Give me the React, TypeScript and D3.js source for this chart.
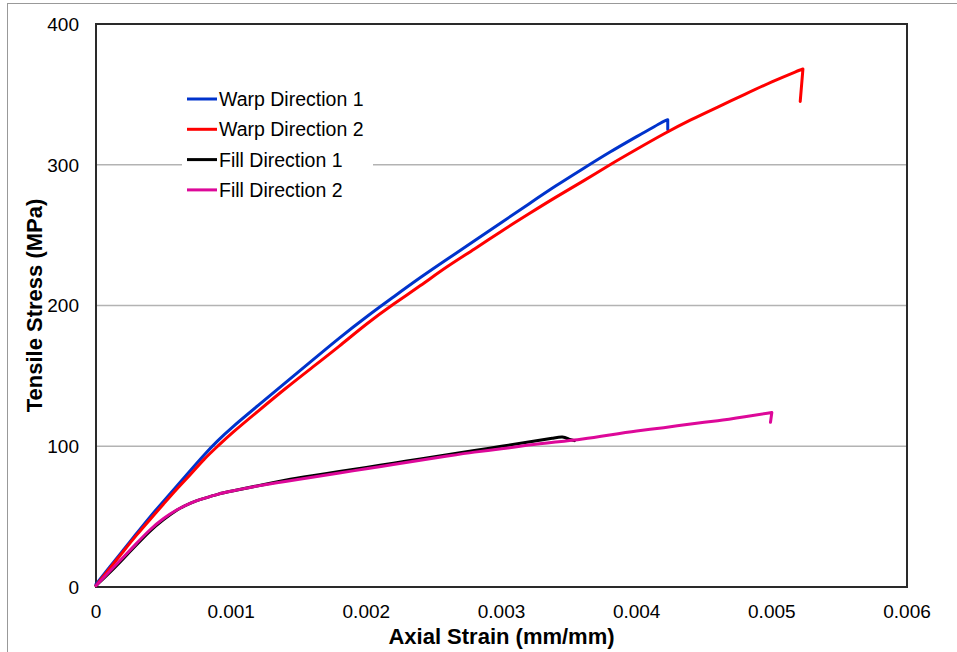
import React from "react";
import * as d3 from "d3";

const xTicks = [0, 0.001, 0.002, 0.003, 0.004, 0.005, 0.006];
const xTickLabels = ["0", "0.001", "0.002", "0.003", "0.004", "0.005", "0.006"];
const yTicks = [0, 100, 200, 300, 400];
const yTickLabels = ["0", "100", "200", "300", "400"];

const seriesNames = ["Warp Direction 1", "Warp Direction 2", "Fill Direction 1", "Fill Direction 2"];
const seriesColors = ["#0033cc", "#ff0000", "#000000", "#dd0899"];

const warp1: [number, number][] = [
  [0, 2], [0.0001, 14], [0.0002, 26], [0.0003, 38], [0.0004, 50], [0.0005, 61], [0.0006, 72],
  [0.0007, 83], [0.0008, 94], [0.0009, 104], [0.001, 113], [0.0012, 129], [0.0014, 145],
  [0.0016, 161], [0.0018, 177], [0.002, 192], [0.0022, 206], [0.0024, 220], [0.0026, 233],
  [0.0028, 246], [0.003, 259], [0.0032, 272], [0.0034, 285], [0.0036, 297], [0.0038, 309],
  [0.004, 320], [0.0042, 331], [0.00423, 332], [0.00423, 325],
];
const warp2: [number, number][] = [
  [0, 1], [0.0001, 13], [0.0002, 25], [0.0003, 37], [0.0004, 48], [0.0005, 59], [0.0006, 70],
  [0.0007, 80], [0.0008, 91], [0.0009, 100], [0.001, 109], [0.0012, 125], [0.0014, 141],
  [0.0016, 156], [0.0018, 171], [0.002, 187], [0.0022, 201], [0.0024, 214], [0.0026, 228],
  [0.0028, 240], [0.003, 253], [0.0032, 265], [0.0034, 277], [0.0036, 288], [0.0038, 300],
  [0.004, 311], [0.0042, 322], [0.0044, 332], [0.0046, 341], [0.0048, 350], [0.005, 359],
  [0.0052, 367], [0.00523, 368], [0.00521, 345],
];
const fill1: [number, number][] = [
  [0, 1], [0.0001, 10], [0.0002, 20], [0.0003, 30], [0.0004, 40], [0.0005, 48], [0.0006, 55],
  [0.0007, 60], [0.0008, 63], [0.0009, 66], [0.001, 68], [0.0012, 72], [0.0014, 76],
  [0.0016, 79], [0.0018, 82], [0.002, 85], [0.0022, 88], [0.0024, 91], [0.0026, 94],
  [0.0028, 97], [0.003, 100], [0.0032, 103], [0.0034, 106], [0.00345, 107], [0.0035, 105],
  [0.00354, 104],
];
const fill2: [number, number][] = [
  [0, 1], [0.0001, 11], [0.0002, 21], [0.0003, 31], [0.0004, 41], [0.0005, 49], [0.0006, 55],
  [0.0007, 60], [0.0008, 63], [0.0009, 66], [0.001, 68], [0.0012, 72], [0.0014, 75],
  [0.0016, 78], [0.0018, 81], [0.002, 84], [0.0022, 87], [0.0024, 90], [0.0026, 93],
  [0.0028, 96], [0.003, 98], [0.0032, 101], [0.0034, 103], [0.0036, 105], [0.0038, 108],
  [0.004, 111], [0.0042, 113], [0.0044, 116], [0.0046, 118], [0.0048, 121], [0.005, 124],
  [0.00499, 117],
];
const seriesData = [warp1, warp2, fill1, fill2];

const W = 957;
const H = 652;
const M = { left: 96, right: 907, top: 24, bottom: 587 };
const FONT = "'Liberation Sans', Arial, sans-serif";

export default function App() {
  const x = d3.scaleLinear().domain([0, 0.006]).range([M.left, M.right]);
  const y = d3.scaleLinear().domain([0, 400]).range([M.bottom, M.top]);
  const smooth = d3
    .line<[number, number]>()
    .x((d) => x(d[0]))
    .y((d) => y(d[1]))
    .curve(d3.curveBasis);

  const pathFor = (d: [number, number][]) => {
    // smooth body up to the failure peak, then the straight drop after failure
    const last = d[d.length - 1];
    const body = smooth(d.slice(0, -1)) || "";
    return `${body}L${x(last[0])},${y(last[1])}`;
  };

  const legendX = 187;
  const legendY0 = 99;
  const legendDy = 30.3;

  return (
    <div style={{ position: "fixed", left: 0, top: 0, width: W, height: H, background: "#fff" }}>
      <svg width={W} height={H} style={{ display: "block", fontFamily: FONT }}>
        <rect x={7.5} y={3.5} width={1000} height={700} fill="#fff" stroke="#999" strokeWidth={1} />
        {yTicks.slice(1, -1).map((t) => (
          <line key={t} x1={M.left} x2={M.right} y1={y(t)} y2={y(t)} stroke="#b3b3b3" strokeWidth={1.5} />
        ))}
        <rect x={M.left} y={M.top} width={M.right - M.left} height={M.bottom - M.top} fill="none" stroke="#2a2a2a" strokeWidth={2} />
        {yTicks.map((t, i) => (
          <text key={t} x={79} y={y(t)} dy="0.36em" textAnchor="end" fontSize={19} fill="#000">
            {yTickLabels[i]}
          </text>
        ))}
        {xTicks.map((t, i) => (
          <text key={t} x={x(t)} y={618} textAnchor="middle" fontSize={19} fill="#000">
            {xTickLabels[i]}
          </text>
        ))}
        <text x={(M.left + M.right) / 2} y={644} textAnchor="middle" fontSize={22} fontWeight="bold">
          Axial Strain (mm/mm)
        </text>
        <text
          transform={`translate(42, ${(M.top + M.bottom) / 2}) rotate(-90)`}
          textAnchor="middle"
          fontSize={22}
          fontWeight="bold"
        >
          Tensile Stress (MPa)
        </text>
        <rect x={182} y={84} width={191} height={122} fill="#fff" />
        {seriesData.map((d, i) => (
          <path key={i} d={pathFor(d)} fill="none" stroke={seriesColors[i]} strokeWidth={3} strokeLinejoin="round" strokeLinecap="round" />
        ))}
        {seriesNames.map((n, i) => (
          <g key={n}>
            <line x1={legendX} x2={legendX + 30} y1={legendY0 + i * legendDy} y2={legendY0 + i * legendDy} stroke={seriesColors[i]} strokeWidth={3} />
            <text x={legendX + 32} y={legendY0 + i * legendDy} dy="0.36em" fontSize={19.5} fill="#000">
              {n}
            </text>
          </g>
        ))}
      </svg>
    </div>
  );
}
